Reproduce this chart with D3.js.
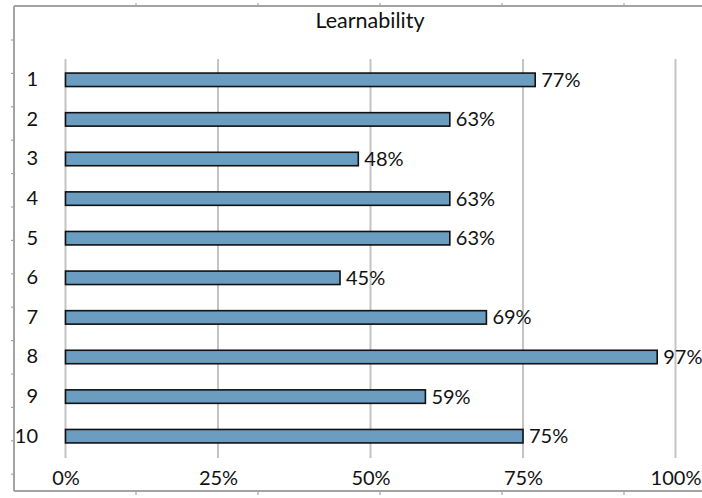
<!DOCTYPE html>
<html>
<head>
<meta charset="utf-8">
<script src="https://cdn.jsdelivr.net/npm/d3@7"></script>
<style>
  html, body { margin: 0; padding: 0; background: #fff; }
  svg { display: block; }
  text { font-family: Lato, "Open Sans", sans-serif; fill: #111; }
</style>
</head>
<body>
<svg id="chart" width="702" height="498"></svg>
<script>
// Learnability score per item
const categories = ["1", "2", "3", "4", "5", "6", "7", "8", "9", "10"];
const values = [77, 63, 48, 63, 63, 45, 69, 97, 59, 75];
const tickValues = [0, 25, 50, 75, 100];
const title = "Learnability";

const svg = d3.select("#chart");
const W = 702, H = 498;
const FONT = "Lato, 'Open Sans', sans-serif";

// Sheet frame with cell-grid tick marks
const frame = { left: 14, top: 6, bottom: 491 };
const frameG = svg.append("g").attr("stroke", "#a3a3a3");
frameG.append("line").attr("x1", frame.left).attr("x2", W).attr("y1", frame.top).attr("y2", frame.top).attr("stroke-width", 2);
frameG.append("line").attr("x1", frame.left).attr("x2", W).attr("y1", frame.bottom).attr("y2", frame.bottom).attr("stroke-width", 2);
frameG.append("line").attr("x1", frame.left).attr("x2", frame.left).attr("y1", frame.top).attr("y2", frame.bottom).attr("stroke-width", 2);
const colTicks = d3.range(frame.left + 122, W, 122);
frameG.selectAll(".ct").data(colTicks).join("line")
  .attr("x1", d => d).attr("x2", d => d).attr("y1", frame.top - 3).attr("y2", frame.top)
  .attr("stroke-width", 1.2);
frameG.selectAll(".cb").data(colTicks).join("line")
  .attr("x1", d => d).attr("x2", d => d).attr("y1", frame.bottom).attr("y2", frame.bottom + 4)
  .attr("stroke-width", 1.2);
const rowTicks = d3.range(40, frame.bottom - 5, 33.4);
frameG.selectAll(".rt").data(rowTicks).join("line")
  .attr("x1", frame.left - 3).attr("x2", frame.left).attr("y1", d => d).attr("y2", d => d)
  .attr("stroke-width", 1.2);

// Scales
const x = d3.scaleLinear().domain([0, 100]).range([65.5, 675.5]);
const y = d3.scaleBand().domain(categories).range([60, 456]).paddingInner(0.66).paddingOuter(0.33);

// Title
svg.append("text").attr("x", 370).attr("y", 28).attr("text-anchor", "middle")
  .attr("font-size", 21.5).text(title);

// Vertical gridlines
svg.append("g").selectAll("line").data(tickValues).join("line")
  .attr("x1", d => x(d)).attr("x2", d => x(d)).attr("y1", 59).attr("y2", 458)
  .attr("stroke", "#c4c4c4").attr("stroke-width", 2);

// X axis labels
const xAxis = d3.axisBottom(x).tickValues(tickValues).tickFormat(d => d + "%").tickSize(0).tickPadding(0);
const xg = svg.append("g").attr("transform", "translate(0,471)").call(xAxis);
xg.select(".domain").remove();
xg.selectAll("text").attr("font-size", 20).attr("dy", "0.71em").attr("fill", "#111")
  .style("font-family", FONT);

// Y axis labels
const yAxis = d3.axisLeft(y).tickSize(0).tickPadding(0);
const yg = svg.append("g").attr("transform", "translate(38,0)").call(yAxis);
yg.select(".domain").remove();
yg.selectAll("text").attr("font-size", 20).attr("fill", "#111")
  .style("font-family", FONT);

// Bars
svg.append("g").selectAll("rect").data(values).join("rect")
  .attr("x", x(0))
  .attr("y", (d, i) => y(categories[i]))
  .attr("width", d => x(d) - x(0))
  .attr("height", y.bandwidth())
  .attr("fill", "#6a9dc0")
  .attr("stroke", "#111")
  .attr("stroke-width", 1.6);

// Value labels
svg.append("g").selectAll("text").data(values).join("text")
  .attr("x", d => x(d) + 6)
  .attr("y", (d, i) => y(categories[i]) + y.bandwidth() / 2)
  .attr("dy", "0.35em")
  .attr("font-size", 20)
  .text(d => d + "%");
</script>
</body>
</html>
